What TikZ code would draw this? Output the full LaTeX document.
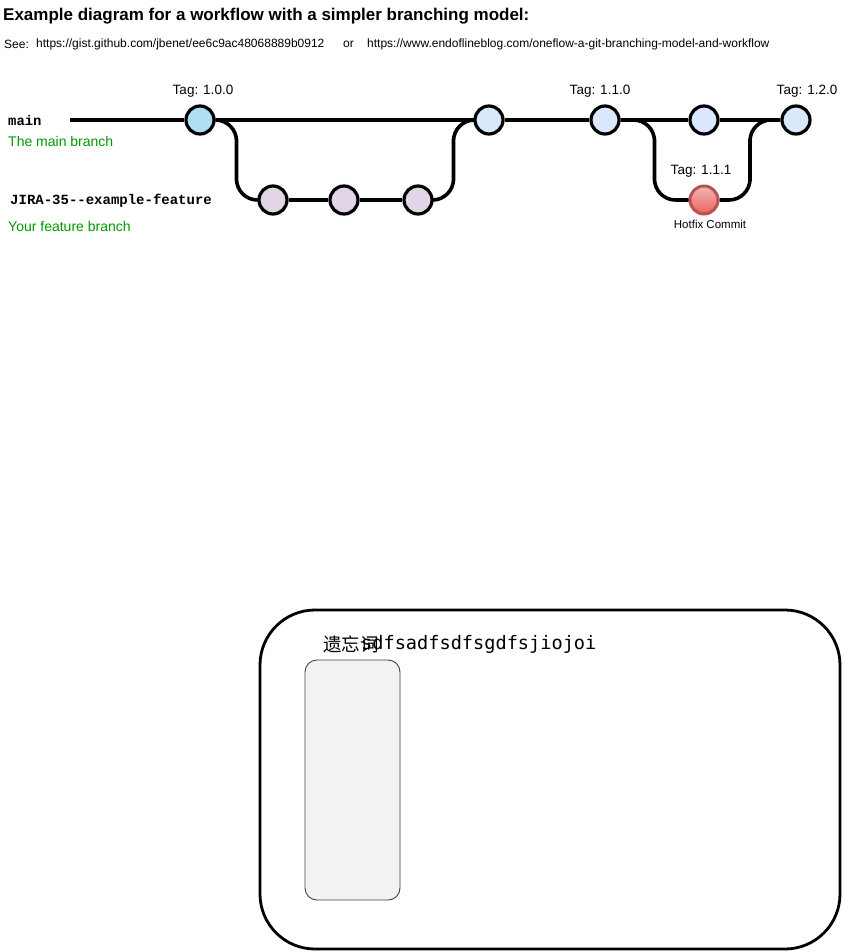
\documentclass[tikz,border=0pt]{standalone}
\usepackage{fontspec}
\setmainfont{Liberation Sans}
\newfontfamily\monob{Liberation Mono}
\newfontfamily\dmono{DejaVu Sans Mono}
\newfontfamily\cjk{Noto Sans CJK SC}
\usetikzlibrary{calc}
\definecolor{brgreen}{HTML}{009900}
\definecolor{blueA}{HTML}{B1DDF0}
\definecolor{blueB}{HTML}{DAE8FC}
\definecolor{purp}{HTML}{E1D5E7}
\definecolor{redS}{HTML}{B85450}
\definecolor{redT}{HTML}{F4B6B4}
\definecolor{redB}{HTML}{E8625E}
\definecolor{innerfill}{HTML}{F1F2F4}
\tikzset{
  commit/.style={circle,draw=black,line width=3.2pt,minimum size=28pt,inner sep=0pt},
  mainc/.style={commit,fill=blueB},
  featc/.style={commit,fill=purp},
  hotc/.style={circle,draw=redS,line width=3pt,minimum size=28pt,inner sep=0pt,top color=redT,bottom color=redB},
  branch/.style={line width=3.6pt,black},
  curvedbranch/.style={branch,rounded corners=21pt},
  tagl/.style={font=\fontsize{13.5}{15}\selectfont,inner sep=0pt},
  txt/.style={inner sep=0pt,anchor=west},
  small/.style={txt,font=\fontsize{12}{13}\selectfont},
}
\begin{document}
\begin{tikzpicture}[x=1pt,y=-1pt]
\path[use as bounding box] (0,0) rectangle (844,952);
% headings
\node[txt,font=\bfseries\fontsize{17}{19}\selectfont] (title) at (3,16) {Example diagram for a workflow with a simpler branching model:};
\node[small] (see) at (4,44) {See:};
\node[small] (url1) at (36,44) {https://gist.github.com/jbenet/ee6c9ac48068889b0912};
\node[small] (or) at (343,44) {or};
\node[small] (url2) at (367,44) {https://www.endoflineblog.com/oneflow-a-git-branching-model-and-workflow};
% branch labels
\node[txt,font=\monob\bfseries\fontsize{13.9}{15}\selectfont] (mainl) at (8,121) {main};
\node[txt,font=\fontsize{14}{15}\selectfont,text=brgreen] (maind) at (8,141) {The main branch};
\node[txt,font=\monob\bfseries\fontsize{14}{15}\selectfont] (featl) at (10,201) {JIRA-35--example-feature};
\node[txt,font=\fontsize{14}{15}\selectfont,text=brgreen] (featd) at (8,226) {Your feature branch};
% commits
\coordinate (start) at (70,120);
\node[commit,fill=blueA] (c1) at (200,120) {};
\node[mainc] (c2) at (489,120) {};
\node[mainc] (c3) at (605,120) {};
\node[mainc] (c4) at (704,120) {};
\node[mainc] (c5) at (796,120) {};
\node[featc] (f1) at (273,200) {};
\node[featc] (f2) at (344,200) {};
\node[featc] (f3) at (418,200) {};
\node[hotc] (h) at (704,200) {};
% connectors
\draw[branch] (start) -- (c1);
\draw[branch] (c1) -- (c2);
\draw[branch] (c2) -- (c3);
\draw[branch] (c3) -- (c4);
\draw[branch] (c4) -- (c5);
\draw[branch] (f1) -- (f2);
\draw[branch] (f2) -- (f3);
\draw[curvedbranch] (c1.east) -| ($(c1)!0.5!(f1)$) |- (f1.west);
\draw[curvedbranch] (f3.east) -| ($(f3)!0.5!(c2)$) |- (c2.west);
\draw[curvedbranch] (c3.east) -| ($(c3)!0.5!(h)$) |- (h.west);
\draw[curvedbranch] (h.east) -| ($(h)!0.5!(c5)$) |- (c5.west);
% tags
\node[tagl] (t1) at (203,91) {Tag: 1.0.0};
\node[tagl] (t2) at (600,91) {Tag: 1.1.0};
\node[tagl] (t3) at (807,91) {Tag: 1.2.0};
\node[tagl] (t4) at (701,171) {Tag: 1.1.1};
\node[inner sep=0pt,font=\fontsize{11.5}{13}\selectfont] (hl) at (710,224.5) {Hotfix Commit};
% bottom container
\draw[line width=2.8pt,rounded corners=55pt] (260,610) rectangle (840,949);
\draw[draw=black!75,line width=0.9pt,fill=innerfill,rounded corners=12pt] (305,660) rectangle (400,900);
\node[txt,font=\cjk\fontsize{18.5}{20}\selectfont] (memo) at (323,644) {遗忘词};
\node[txt,font=\dmono\fontsize{18.6}{20}\selectfont] (junk) at (361,644) {sdfsadfsdfsgdfsjiojoi};
\end{tikzpicture}
\end{document}
